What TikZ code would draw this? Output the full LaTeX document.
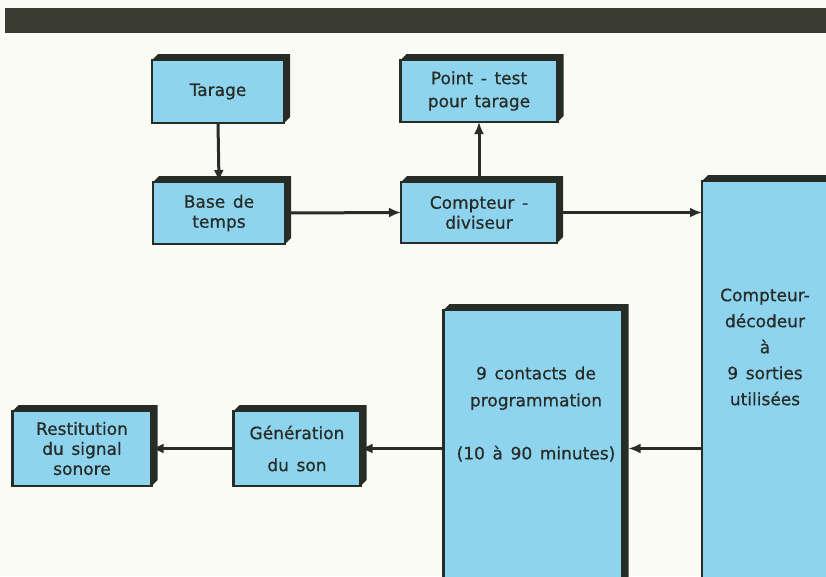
\documentclass[tikz,border=0pt]{standalone}
\usepackage{fontspec}
\setmainfont{DejaVu Sans}[FakeBold=0.7]
\usetikzlibrary{arrows.meta}

\definecolor{bleu}{RGB}{142,212,238}
\definecolor{encre}{RGB}{40,44,38}
\definecolor{bande}{RGB}{58,60,50}
\definecolor{papier}{RGB}{251,251,246}

\newcommand{\lettrage}[1]{\fontsize{17}{#1}\selectfont\spaceskip=0.45em plus 0.1em}

\tikzset{
  bloc/.style={draw=encre, fill=bleu, line width=2.5pt, outer sep=0pt, inner sep=0pt,
    align=center, text=encre, font=\lettrage{20pt}},
  texte/.style={align=center, text=encre, font=\lettrage{26pt}},
  ombre/.style={fill=encre},
  fleche/.style={draw=encre, line width=3pt, -{Latex[length=12pt,width=10pt]}},
}

% relief : bande sombre en haut et a droite d'un bloc
\newcommand{\relief}[1]{%
  \fill[ombre] (#1.north west) -- ([shift={(6,-6)}]#1.north west)
    -- ([shift={(6,-6)}]#1.north east) -- ([shift={(6,-6)}]#1.south east)
    -- (#1.south east) -- (#1.north east) -- cycle;}

\begin{document}
\begin{tikzpicture}[x=1pt, y=-1pt]

\useasboundingbox (0,0) rectangle (826,576);
\clip (0,0) rectangle (826,576);
\fill[papier] (0,0) rectangle (826,576);
\fill[bande] (5,8) rectangle (826,33);

% ---------------------------
% ligne du haut
% ---------------------------
\node[bloc, minimum width=132pt, minimum height=63pt] (tar) at (218,91.5) {Tarage};
\node[bloc, minimum width=157pt, minimum height=62pt, font=\lettrage{23pt}]
  (pt) at (479,91) {Point - test\\pour tarage};
\node[bloc, minimum width=132pt, minimum height=62pt] (base) at (219,213) {Base de\\temps};
\node[bloc, minimum width=156pt, minimum height=61pt] (div) at (479,212.5) {Compteur -\\diviseur};

% ---------------------------
% grands blocs
% ---------------------------
\node[bloc, minimum width=128pt, minimum height=440pt] (dec) at (766,401) {};
\node[texte] (dectxt) at (765,347) {Compteur-\\décodeur\\à\\9 sorties\\utilisées};
\node[bloc, minimum width=179pt, minimum height=310pt] (con) at (533,465) {};
\node[texte, font=\lettrage{27pt}] (contxt) at (536,414)
  {9 contacts de\\programmation\\[26pt](10 à 90 minutes)};

% ---------------------------
% ligne du bas
% ---------------------------
\node[bloc, minimum width=127pt, minimum height=75pt, font=\lettrage{22pt}]
  (gen) at (297,448.5) {Génération\\[10pt]du son};
\node[bloc, minimum width=139pt, minimum height=75pt] (res) at (82,448.5) {Restitution\\du signal\\sonore};

\foreach \b in {tar,pt,base,div,dec,con,gen,res}
  \relief{\b};

% liaisons
\draw[fleche] (tar.south) -- (base.north);
\draw[fleche] (base.east) -- (div.west);
\draw[fleche] (div.north) -- (pt.south);
\draw[fleche] (div.east) -- (dec.west |- div.east);
\draw[fleche] (dec.west |- gen.east) -- ([xshift=6pt]con.east |- gen.east);
\draw[fleche] (con.west |- gen.east) -- (gen.east);
\draw[fleche] (gen.west) -- (res.east);

\end{tikzpicture}
\end{document}
